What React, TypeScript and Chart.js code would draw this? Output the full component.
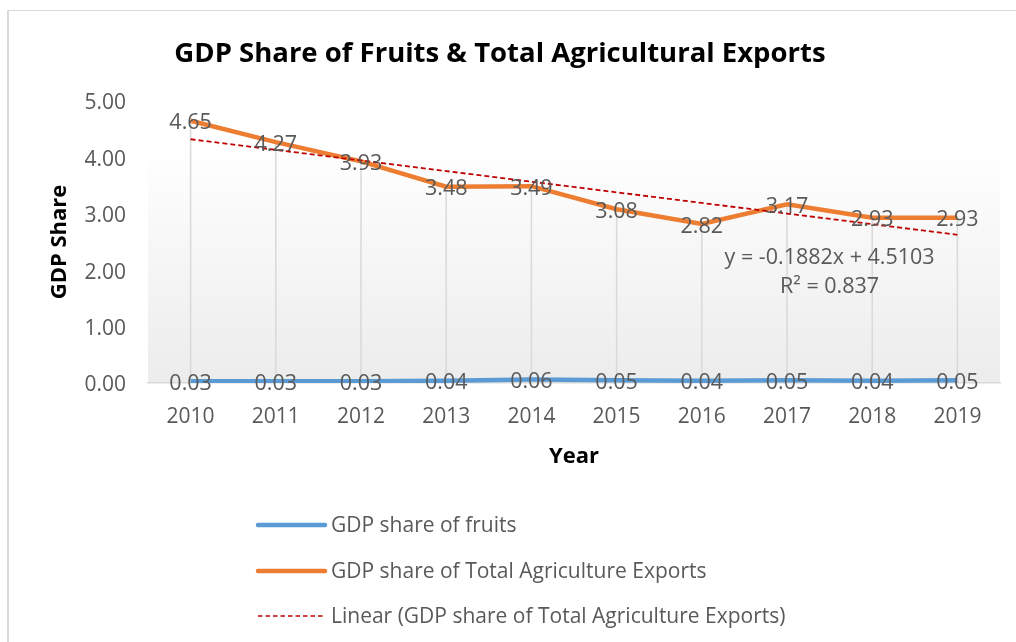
import React, { useEffect, useRef } from "react";
import { Chart, registerables } from "chart.js";

Chart.register(...registerables);

// ---------- data ----------
const years = ["2010", "2011", "2012", "2013", "2014", "2015", "2016", "2017", "2018", "2019"];
const fruitsShare = [0.03, 0.03, 0.03, 0.04, 0.06, 0.05, 0.04, 0.05, 0.04, 0.05];
const agriExportsShare = [4.65, 4.27, 3.93, 3.48, 3.49, 3.08, 2.82, 3.17, 2.93, 2.93];
const seriesNames = [
  "GDP share of fruits",
  "GDP share of Total Agriculture Exports",
  "Linear (GDP share of Total Agriculture Exports)",
];
const trendEquation = "y = -0.1882x + 4.5103";
const trendR2 = "R² = 0.837";
const chartTitle = "GDP Share of Fruits & Total Agricultural Exports";
const yAxisTitle = "GDP Share";
const xAxisTitle = "Year";
const yMin = 0;
const yMax = 5;
const yStep = 1;

// least-squares linear trend of a series (x = 1..n)
function linearTrend(values: number[]): number[] {
  const n = values.length;
  const xs = values.map((_, i) => i + 1);
  const mx = xs.reduce((a, b) => a + b, 0) / n;
  const my = values.reduce((a, b) => a + b, 0) / n;
  let sxy = 0;
  let sxx = 0;
  for (let i = 0; i < n; i++) {
    sxy += (xs[i] - mx) * (values[i] - my);
    sxx += (xs[i] - mx) * (xs[i] - mx);
  }
  const slope = sxy / sxx;
  const intercept = my - slope * mx;
  return xs.map((x) => intercept + slope * x);
}

const W = 1016;
const H = 642;
const FONT = "'Open Sans', Lato, sans-serif";
const GRAY_TEXT = "#595959";
const BLUE = "#5B9BD5";
const ORANGE = "#ED7D31";
const RED = "#C00000";

const framePlugin = {
  id: "frame",
  beforeDraw(chart: any) {
    const { ctx, chartArea: a } = chart;
    ctx.save();
    ctx.fillStyle = "#ffffff";
    ctx.fillRect(0, 0, W, H);
    ctx.strokeStyle = "#d9d9d9";
    ctx.lineWidth = 2;
    ctx.beginPath();
    ctx.moveTo(8, 10);
    ctx.lineTo(8, H);
    ctx.stroke();
    ctx.lineWidth = 1;
    ctx.beginPath();
    ctx.moveTo(7, 10.5);
    ctx.lineTo(W, 10.5);
    ctx.stroke();
    const g = ctx.createLinearGradient(0, a.top, 0, a.bottom);
    g.addColorStop(0, "#ffffff");
    g.addColorStop(0.15, "#ffffff");
    g.addColorStop(1, "#ececec");
    ctx.fillStyle = g;
    ctx.fillRect(a.left, a.top, a.right - a.left, a.bottom - a.top);
    ctx.restore();
  },
};

const dropLinesPlugin = {
  id: "dropLines",
  beforeDatasetsDraw(chart: any) {
    const { ctx, chartArea: a } = chart;
    const m0 = chart.getDatasetMeta(0);
    const m1 = chart.getDatasetMeta(1);
    ctx.save();
    ctx.strokeStyle = "#d9d9d9";
    ctx.lineWidth = 1.5;
    m1.data.forEach((pt: any, i: number) => {
      const top = Math.min(pt.y, m0.data[i].y);
      ctx.beginPath();
      ctx.moveTo(pt.x, top);
      ctx.lineTo(pt.x, a.bottom);
      ctx.stroke();
    });
    ctx.restore();
  },
};

const valueLabelsPlugin = {
  id: "valueLabels",
  afterDatasetsDraw(chart: any) {
    const { ctx } = chart;
    ctx.save();
    ctx.font = `21.5px ${FONT}`;
    ctx.fillStyle = GRAY_TEXT;
    ctx.textAlign = "center";
    ctx.textBaseline = "middle";
    [0, 1].forEach((di) => {
      const meta = chart.getDatasetMeta(di);
      const vals = chart.data.datasets[di].data as number[];
      meta.data.forEach((pt: any, i: number) => {
        ctx.fillText(vals[i].toFixed(2), pt.x, pt.y + 2.5);
      });
    });
    // trendline equation
    const xs = chart.scales.x;
    const ys = chart.scales.y;
    const cx = xs.getPixelForValue(7.5);
    ctx.font = `21.5px ${FONT}`;
    ctx.fillText(trendEquation, cx, ys.getPixelForValue(2.22));
    ctx.fillText(trendR2, cx, ys.getPixelForValue(1.71));
    ctx.restore();
  },
};

const legendPlugin = {
  id: "customLegend",
  afterDraw(chart: any) {
    const { ctx } = chart;
    const lx0 = 258;
    const lx1 = 325;
    const tx = 331;
    const rows = [526, 572, 617];
    ctx.save();
    ctx.font = `21px ${FONT}`;
    ctx.fillStyle = GRAY_TEXT;
    ctx.textAlign = "left";
    ctx.textBaseline = "middle";
    const ds = chart.data.datasets;
    rows.forEach((y, i) => {
      const d = ds[i];
      ctx.save();
      ctx.strokeStyle = d.borderColor;
      ctx.lineWidth = i === 2 ? 1.5 : 4.5;
      ctx.lineCap = i === 2 ? "butt" : "round";
      ctx.setLineDash(i === 2 ? [4.5, 3] : []);
      ctx.beginPath();
      ctx.moveTo(lx0, y - 1);
      ctx.lineTo(lx1, y - 1);
      ctx.stroke();
      ctx.restore();
      ctx.fillText(d.label, tx, y);
    });
    ctx.restore();
  },
};

export default function App() {
  const ref = useRef<HTMLCanvasElement | null>(null);

  useEffect(() => {
    if (!ref.current) return;
    const chart = new Chart(ref.current, {
      type: "line",
      data: {
        labels: years,
        datasets: [
          {
            label: seriesNames[0],
            data: fruitsShare,
            borderColor: BLUE,
            backgroundColor: BLUE,
            borderWidth: 4.5,
            pointRadius: 0,
            tension: 0,
            order: 2,
          },
          {
            label: seriesNames[1],
            data: agriExportsShare,
            borderColor: ORANGE,
            backgroundColor: ORANGE,
            borderWidth: 4.5,
            pointRadius: 0,
            tension: 0,
            order: 1,
          },
          {
            label: seriesNames[2],
            data: linearTrend(agriExportsShare),
            borderColor: RED,
            backgroundColor: RED,
            borderWidth: 1.8,
            borderDash: [5, 3],
            pointRadius: 0,
            tension: 0,
            order: 0,
          },
        ],
      },
      options: {
        responsive: false,
        animation: false,
        devicePixelRatio: 1,
        layout: { padding: { left: 0, right: 16, top: 0, bottom: 159 } },
        plugins: {
          legend: { display: false },
          tooltip: { enabled: false },
          title: {
            display: true,
            text: chartTitle,
            color: "#000000",
            font: { family: FONT, size: 27.5, weight: "bold" },
            padding: { top: 37.5, bottom: 30.5 },
          },
        },
        scales: {
          x: {
            type: "category",
            offset: true,
            grid: { display: false, drawTicks: false },
            border: { display: true, color: "#d9d9d9", width: 1.5 },
            ticks: {
              color: GRAY_TEXT,
              font: { family: FONT, size: 21 },
              padding: 21,
              maxRotation: 0,
              autoSkip: false,
            },
            title: {
              display: true,
              text: xAxisTitle,
              color: "#000000",
              font: { family: FONT, size: 22, weight: "bold" },
              padding: { top: 0, bottom: 12.8 },
            },
            afterFit: (s: any) => {
              s.height = 100;
            },
          },
          y: {
            min: yMin,
            max: yMax,
            grid: { display: false, drawTicks: false },
            border: { display: false },
            ticks: {
              stepSize: yStep,
              color: GRAY_TEXT,
              font: { family: FONT, size: 21 },
              padding: 22,
              labelOffset: 2.5,
              callback: (v: any) => Number(v).toFixed(2),
            },
            title: {
              display: true,
              text: yAxisTitle,
              color: "#000000",
              font: { family: FONT, size: 22, weight: "bold" },
              padding: { top: 46.8, bottom: 0 },
            },
            afterFit: (s: any) => {
              s.width = 148;
            },
          },
        },
      },
      plugins: [framePlugin, dropLinesPlugin, valueLabelsPlugin, legendPlugin],
    });
    return () => chart.destroy();
  }, []);

  return (
    <div style={{ position: "absolute", left: 0, top: 0, width: W, height: H, background: "#fff" }}>
      <canvas ref={ref} width={W} height={H} style={{ display: "block", width: W, height: H }} />
    </div>
  );
}
